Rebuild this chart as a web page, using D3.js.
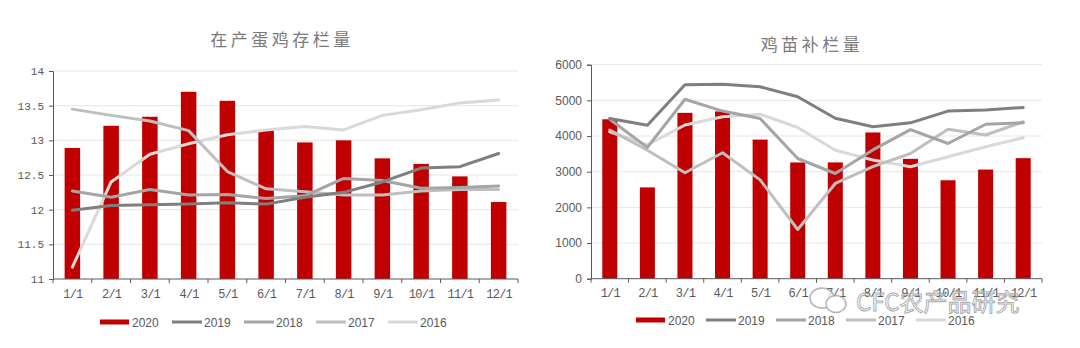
<!DOCTYPE html>
<html><head><meta charset="utf-8">
<script src="https://cdn.jsdelivr.net/npm/d3@7"></script>
<style>
html,body{margin:0;padding:0;background:#fff;}
svg{display:block;}
</style></head>
<body>
<svg id="chart" width="1080" height="348"></svg>
<script>
// ---------- data ----------
const months = ["1/1","2/1","3/1","4/1","5/1","6/1","7/1","8/1","9/1","10/1","11/1","12/1"];
const seriesNames = ["2020","2019","2018","2017","2016"];
const seriesColors = ["#c00000","#7f7f7f","#a5a5a5","#bfbfbf","#d9d9d9"];

// 在产蛋鸡存栏量 (亿只)
const hens2020 = [12.89,13.21,13.34,13.70,13.57,13.15,12.97,13.00,12.74,12.66,12.48,12.11];
const hens2019 = [11.99,12.06,12.07,12.08,12.10,12.08,12.18,12.25,12.40,12.60,12.62,12.81];
const hens2018 = [12.27,12.18,12.29,12.21,12.22,12.16,12.20,12.45,12.42,12.31,12.32,12.34];
const hens2017 = [13.45,13.36,13.28,13.14,12.55,12.30,12.26,12.21,12.21,12.27,12.29,12.29];
const hens2016 = [11.17,12.40,12.80,12.95,13.08,13.15,13.20,13.15,13.36,13.44,13.54,13.58];
const hensTicks = [11,11.5,12,12.5,13,13.5,14];

// 鸡苗补栏量 (万只)
const chicks2020 = [4470,2560,4650,4690,3900,3260,3260,4100,3360,2760,3060,3380];
const chicks2019 = [4490,4300,5440,5450,5380,5100,4500,4260,4370,4700,4730,4800];
const chicks2018 = [4470,3680,5030,4700,4490,3370,2950,3610,4180,3790,4330,4370];
const chicks2017 = [4170,3600,2970,3530,2770,1380,2670,3140,3510,4190,4030,4400];
const chicks2016 = [4120,3750,4310,4540,4610,4240,3600,3330,3140,3420,3700,3950];
const chicksTicks = [0,1000,2000,3000,4000,5000,6000];

const svg = d3.select("#chart");

function drawPanel(cfg) {
  const g = svg.append("g");
  const x = d3.scaleBand().domain(months).range([cfg.x0, cfg.x1]).paddingInner(0.6).paddingOuter(0.3);
  const xc = d3.scalePoint().domain(months).range([cfg.x0, cfg.x1]).padding(0.5);
  const y = d3.scaleLinear().domain(cfg.domain).range([cfg.y1, cfg.y0]);

  // gridlines
  g.append("g").selectAll("line").data(cfg.ticks.slice(1)).join("line")
    .attr("x1", cfg.x0).attr("x2", cfg.x1)
    .attr("y1", d => y(d)).attr("y2", d => y(d))
    .attr("stroke", "#e6e6e6").attr("stroke-width", 1);

  // bars (2020)
  g.append("g").selectAll("rect").data(cfg.bars).join("rect")
    .attr("x", (d, i) => x(months[i]))
    .attr("width", x.bandwidth())
    .attr("y", d => y(d))
    .attr("height", d => y(cfg.domain[0]) - y(d))
    .attr("fill", seriesColors[0]);

  // lines (series index given by cfg.lineOrder)
  const line = d3.line().x((d, i) => xc(months[i])).y(d => y(d)).curve(d3.curveLinear);
  cfg.lineOrder.forEach(k => {
    g.append("path").datum(cfg.lines[k - 1])
      .attr("d", line)
      .attr("fill", "none")
      .attr("stroke", seriesColors[k])
      .attr("stroke-width", 3)
      .attr("stroke-linejoin", "round")
      .attr("stroke-linecap", "round");
  });

  // y axis
  const yAxis = d3.axisLeft(y).tickValues(cfg.ticks).tickSize(4).tickPadding(5).tickFormat(cfg.fmt);
  const ya = g.append("g").attr("transform", `translate(${cfg.x0},0)`).call(yAxis);
  ya.select(".domain").attr("stroke", "#595959");
  ya.selectAll(".tick line").attr("stroke", "#595959");
  ya.selectAll("text").attr("fill", "#595959").style("font-family", cfg.yFont).style("font-size", cfg.yFontSize);

  // x axis
  const xAxis = d3.axisBottom(xc).tickSize(0).tickPadding(10);
  const xa = g.append("g").attr("transform", `translate(0,${cfg.y1})`).call(xAxis);
  xa.select(".domain").attr("stroke", "#595959").attr("d", `M${cfg.x0},0H${cfg.x1}`);
  xa.selectAll("text").attr("fill", "#595959").style("font-family", "'Liberation Mono', monospace").style("font-size", "12px").style("letter-spacing", "-0.8px");
  // separator ticks between categories
  const step = xc.step();
  const sep = d3.range(months.length + 1).map(i => cfg.x0 + i * step);
  xa.append("g").selectAll("line").data(sep).join("line")
    .attr("x1", d => d).attr("x2", d => d).attr("y1", 0).attr("y2", 4)
    .attr("stroke", "#595959");

  // title
  svg.append("text").attr("x", cfg.titleX).attr("y", cfg.titleY)
    .attr("text-anchor", "middle").attr("fill", "#7a7a7a")
    .style("font-family", "'Noto Sans CJK SC', sans-serif").style("font-size", "17px").style("letter-spacing", "3.5px")
    .text(cfg.title);

  // legend
  const lg = svg.append("g");
  seriesNames.forEach((name, k) => {
    const lx = cfg.legendX + k * cfg.legendStep;
    if (k === 0) {
      lg.append("rect").attr("x", lx).attr("y", cfg.legendY - 2.5).attr("width", 29).attr("height", 5).attr("fill", seriesColors[0]);
    } else {
      lg.append("line").attr("x1", lx).attr("x2", lx + 30).attr("y1", cfg.legendY).attr("y2", cfg.legendY)
        .attr("stroke", seriesColors[k]).attr("stroke-width", 3);
    }
    lg.append("text").attr("x", lx + 32).attr("y", cfg.legendY + 4.5)
      .attr("fill", "#595959").style("font-family", "'Liberation Sans', Arial, sans-serif").style("font-size", "12px")
      .text(name);
  });
}

drawPanel({
  x0: 53, x1: 518, y0: 71, y1: 279, domain: [11, 14], ticks: hensTicks,
  fmt: d3.format(".1~f"), yFont: "'Liberation Mono', monospace", yFontSize: "11px",
  bars: hens2020, lines: [hens2019, hens2018, hens2017, hens2016], lineOrder: [4, 3, 2, 1],
  title: "在产蛋鸡存栏量", titleX: 282, titleY: 46,
  legendX: 100, legendStep: 72, legendY: 322
});

drawPanel({
  x0: 591, x1: 1042, y0: 64.7, y1: 278.7, domain: [0, 6000], ticks: chicksTicks,
  fmt: d3.format("d"), yFont: "'Liberation Sans', Arial, sans-serif", yFontSize: "12px",
  bars: chicks2020, lines: [chicks2019, chicks2018, chicks2017, chicks2016], lineOrder: [4, 3, 2, 1],
  title: "鸡苗补栏量", titleX: 812, titleY: 51,
  legendX: 636, legendStep: 70, legendY: 320
});

// watermark
const wm = svg.append("g").attr("opacity", 0.75);
wm.append("ellipse").attr("cx", 822).attr("cy", 298).attr("rx", 12).attr("ry", 10)
  .attr("fill", "#fff").attr("stroke", "#9a9a9a").attr("stroke-width", 1.5);
wm.append("ellipse").attr("cx", 836).attr("cy", 304).attr("rx", 10).attr("ry", 8.5)
  .attr("fill", "#fff").attr("stroke", "#9a9a9a").attr("stroke-width", 1.5);
wm.append("text").attr("x", 856).attr("y", 311)
  .attr("fill", "#fff").attr("stroke", "#8c8c8c").attr("stroke-width", 0.9)
  .style("font-family", "'Noto Sans CJK SC', sans-serif").style("font-size", "24px")
  .text("CFC农产品研究");
</script>
</body></html>
